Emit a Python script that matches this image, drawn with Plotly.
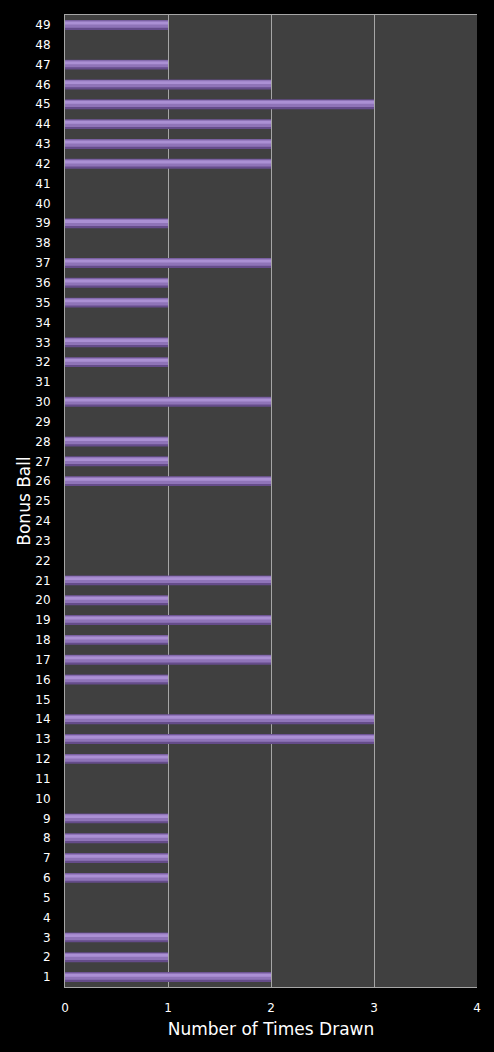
import plotly.graph_objects as go

balls = list(range(1, 50))
times_drawn = [2, 1, 1, 0, 0, 1, 1, 1, 1, 0,
               0, 1, 3, 3, 0, 1, 2, 1, 2, 1,
               2, 0, 0, 0, 0, 2, 1, 1, 0, 2,
               0, 1, 1, 0, 1, 1, 2, 0, 1, 0,
               0, 2, 2, 2, 3, 2, 1, 0, 1]
x_ticks = [0, 1, 2, 3, 4]

font_family = "DejaVu Sans, Verdana, sans-serif"

fig = go.Figure()
# base bar (darker edge)
fig.add_trace(go.Bar(
    y=balls, x=times_drawn, orientation="h", width=0.5,
    marker=dict(color="#654c8a", line=dict(width=0)),
    hoverinfo="x+y", showlegend=False))
# main body
fig.add_trace(go.Bar(
    y=balls, x=times_drawn, orientation="h", width=0.36, offset=-0.14,
    marker=dict(color="#8f74b8", line=dict(width=0)),
    hoverinfo="skip", showlegend=False))
# highlight near top
fig.add_trace(go.Bar(
    y=balls, x=times_drawn, orientation="h", width=0.14, offset=0.02,
    marker=dict(color="#ab90d4", line=dict(width=0)),
    hoverinfo="skip", showlegend=False))

fig.update_layout(
    width=494, height=1052,
    margin=dict(l=65, r=17, t=15, b=65),
    paper_bgcolor="#000000",
    plot_bgcolor="#404040",
    barmode="overlay",
    font=dict(family=font_family, color="#ffffff", size=12),
    xaxis=dict(
        range=[0, 4], tickvals=x_ticks, ticktext=[str(v) for v in x_ticks],
        showgrid=True, gridcolor="#a6a6a6", gridwidth=1,
        zeroline=False, showline=True, linecolor="#a6a6a6", linewidth=1, mirror=True,
        ticks="", ticklabelstandoff=10,
        title=dict(text="Number of Times Drawn", font=dict(size=17, color="#ffffff"), standoff=8),
        fixedrange=True),
    yaxis=dict(
        range=[0.5, 49.5], tickvals=balls, ticktext=[str(b) for b in balls],
        showgrid=False, zeroline=False, showline=True, linecolor="#a6a6a6", linewidth=1,
        ticks="", ticklabelstandoff=11,
        title=dict(text="Bonus Ball", font=dict(size=17, color="#ffffff"), standoff=0),
        fixedrange=True),
)

fig.write_html("out.html")
